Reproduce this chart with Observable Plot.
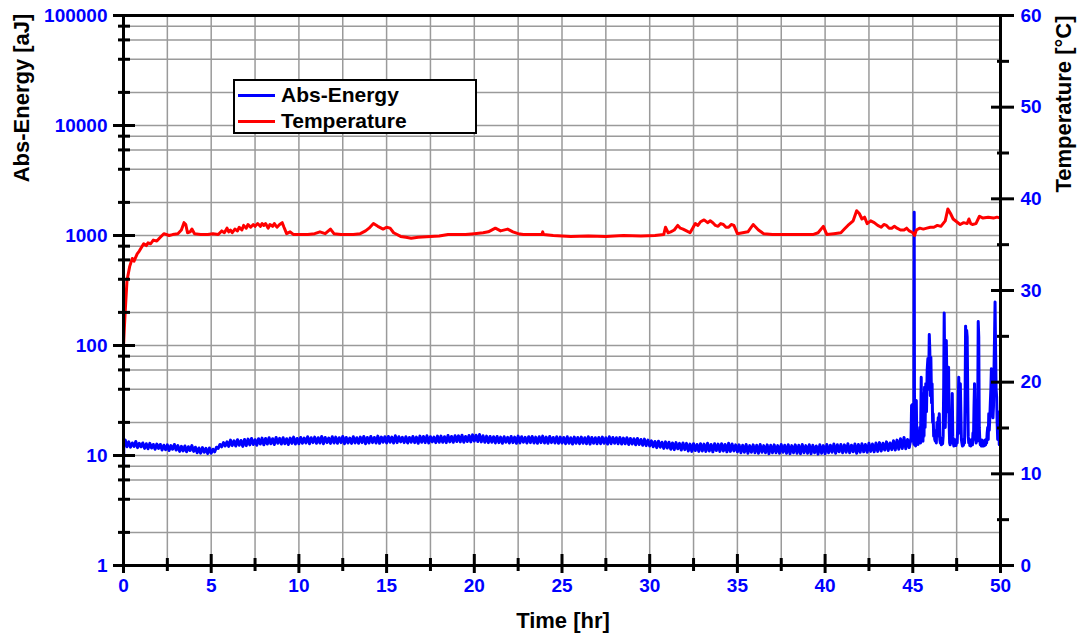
<!DOCTYPE html>
<html>
<head>
<meta charset="utf-8">
<script src="https://cdn.jsdelivr.net/npm/d3@7"></script>
<script src="https://cdn.jsdelivr.net/npm/@observablehq/plot@0.6"></script>
<style>
  html, body { margin: 0; padding: 0; background: #fff; }
  #wrap { position: relative; width: 1085px; height: 642px; font-family: "Liberation Sans", Arial, sans-serif; }
  #wrap svg { position: absolute; left: 0; top: 0; }
  .title { position: absolute; font-weight: bold; font-size: 22px; color: #000; white-space: nowrap; }
  #legend { position: absolute; left: 233px; top: 79px; width: 240px; height: 51px; border: 2px solid #000; background: #fff; }
  .lg-row { position: absolute; left: 3px; height: 26px; display: flex; align-items: center; }
  .lg-sw { width: 37px; height: 0; border-top: 3px solid; margin-right: 6px; }
  .lg-tx { font-weight: bold; font-size: 21px; color: #000; }
</style>
</head>
<body>
<div id="wrap"></div>
<script>
// ---------------- DATA ----------------
// Abs-Energy [aJ] — start of record [hr, aJ]
const energyHead = [[0, 6.9], [0.02, 13.5]];
// Abs-Energy [aJ] — readings every 0.1 hr from 0.1 hr to 44.9 hr (one row per hour)
const energyBaseStart = 0.1;
const energyBaseStep = 0.1;
const energyBaseValue = [
  13.8, 12.0, 13.3, 11.9, 13.0, 12.1, 13.4, 11.8, 12.9, 12.0,
  13.0, 11.6, 12.8, 11.5, 12.9, 11.7, 12.6, 11.4, 12.7, 11.6,
  12.6, 11.2, 12.4, 11.3, 12.5, 11.1, 12.3, 11.4, 12.6, 11.2,
  12.3, 10.9, 12.1, 11.0, 12.2, 10.8, 12.0, 11.1, 12.3, 10.9,
  11.9, 10.6, 11.7, 10.5, 11.8, 10.7, 11.6, 10.4, 11.7, 10.5,
  11.4, 10.8, 11.9, 11.6, 12.6, 12.0, 13.1, 12.2, 13.3, 12.1,
  13.8, 12.3, 13.6, 12.2, 13.9, 12.4, 13.7, 12.1, 14.0, 12.3,
  14.1, 12.5, 14.3, 12.6, 13.9, 12.4, 14.2, 12.7, 14.4, 12.5,
  14.3, 12.7, 14.5, 12.8, 14.2, 12.6, 14.6, 12.9, 14.3, 12.7,
  14.5, 12.8, 14.2, 12.6, 14.4, 12.9, 14.7, 12.7, 14.3, 12.8,
  14.6, 12.9, 14.4, 13.0, 14.8, 12.8, 14.5, 13.1, 14.7, 12.9,
  14.5, 13.0, 14.9, 12.8, 14.6, 13.1, 14.4, 12.9, 14.8, 13.0,
  14.7, 12.9, 14.5, 13.1, 14.9, 12.8, 14.6, 13.0, 14.4, 12.9,
  14.8, 13.0, 14.5, 12.9, 14.7, 13.1, 14.9, 12.8, 14.6, 13.0,
  14.9, 13.1, 14.6, 13.0, 15.0, 12.9, 14.7, 13.2, 14.8, 13.0,
  14.9, 13.2, 14.7, 13.0, 15.1, 13.1, 14.8, 13.3, 14.6, 13.1,
  14.8, 13.0, 14.6, 13.2, 14.9, 13.1, 14.7, 12.9, 15.0, 13.2,
  14.9, 13.1, 15.1, 13.0, 14.8, 13.3, 14.7, 13.1, 15.0, 13.2,
  15.0, 13.2, 14.8, 13.1, 15.2, 13.3, 14.9, 13.2, 15.1, 13.4,
  15.1, 13.3, 15.3, 13.2, 14.9, 13.4, 15.2, 13.3, 15.4, 13.5,
  15.3, 13.4, 15.5, 13.3, 15.1, 13.2, 15.0, 13.1, 14.9, 13.2,
  14.8, 13.0, 14.9, 13.1, 14.7, 12.9, 14.8, 13.2, 14.6, 13.0,
  14.9, 13.1, 14.7, 12.9, 15.0, 13.0, 14.8, 13.2, 14.6, 13.0,
  14.8, 13.1, 14.9, 13.0, 14.7, 12.9, 14.8, 13.1, 15.0, 13.0,
  14.7, 12.9, 14.9, 13.1, 14.6, 13.0, 14.8, 12.9, 14.7, 13.0,
  14.6, 12.8, 14.8, 12.9, 14.5, 12.7, 14.7, 12.9, 14.6, 12.8,
  14.7, 12.9, 14.5, 12.8, 14.8, 12.7, 14.6, 12.9, 14.5, 12.8,
  14.6, 12.8, 14.7, 12.9, 14.5, 12.7, 14.8, 12.8, 14.6, 12.9,
  14.5, 12.8, 14.6, 12.7, 14.4, 12.8, 14.5, 12.6, 14.3, 12.7,
  14.2, 12.5, 14.3, 12.6, 14.0, 12.4, 14.1, 12.3, 13.8, 12.2,
  13.6, 12.0, 13.4, 11.8, 13.5, 11.9, 13.2, 11.6, 13.3, 11.7,
  13.2, 11.4, 13.0, 11.3, 13.1, 11.5, 12.9, 11.2, 13.0, 11.3,
  12.9, 11.0, 12.7, 10.9, 12.8, 11.1, 12.6, 10.9, 12.8, 11.0,
  12.7, 10.9, 12.9, 11.0, 12.6, 10.8, 12.8, 11.1, 12.7, 10.9,
  12.8, 11.0, 12.6, 10.8, 12.9, 10.9, 12.7, 11.0, 12.5, 10.8,
  12.5, 10.6, 12.4, 10.7, 12.6, 10.5, 12.3, 10.7, 12.5, 10.6,
  12.4, 10.5, 12.6, 10.7, 12.3, 10.6, 12.5, 10.4, 12.4, 10.6,
  12.5, 10.6, 12.3, 10.5, 12.6, 10.7, 12.4, 10.5, 12.5, 10.4,
  12.3, 10.6, 12.5, 10.5, 12.4, 10.4, 12.6, 10.6, 12.3, 10.5,
  12.5, 10.4, 12.4, 10.6, 12.2, 10.3, 12.5, 10.5, 12.3, 10.4,
  12.6, 10.6, 12.4, 10.7, 12.7, 10.5, 12.5, 10.8, 12.6, 10.6,
  12.5, 10.7, 12.8, 10.6, 12.4, 10.8, 12.7, 10.5, 12.6, 10.7,
  12.8, 10.8, 12.6, 10.7, 12.9, 10.9, 12.7, 10.8, 13.0, 10.9,
  13.1, 11.0, 12.9, 11.2, 13.3, 11.1, 13.0, 11.3, 13.6, 11.2,
  13.8, 11.4, 14.2, 11.6, 14.6, 11.5, 14.0, 11.8, 14.5
];
// Abs-Energy [aJ] — burst region after 44.9 hr [hr, aJ]
const energyBurst = [
  [44.93, 28.5], [44.97, 29.0], [45.0, 13.5], [45.03, 27], [45.06, 12.8], [45.08, 1624], [45.1, 12.5],
  [45.13, 14.5], [45.16, 12.2], [45.2, 31.6], [45.23, 13.0], [45.26, 15.5], [45.3, 12.6], [45.33, 16],
  [45.36, 13.2], [45.4, 18], [45.44, 13.0], [45.48, 51.5], [45.51, 14], [45.55, 22], [45.58, 13.5],
  [45.61, 36.6], [45.64, 15], [45.67, 41.8], [45.7, 18], [45.74, 45], [45.78, 25], [45.82, 60],
  [45.86, 76], [45.9, 40], [45.94, 126], [45.97, 90], [46.0, 35], [46.03, 78], [46.07, 30],
  [46.1, 45], [46.13, 20], [46.16, 24], [46.19, 15], [46.22, 17], [46.25, 14], [46.28, 13.5],
  [46.31, 15], [46.34, 13], [46.38, 20], [46.41, 15], [46.45, 22], [46.48, 18], [46.51, 24],
  [46.54, 14], [46.57, 13], [46.6, 14.5], [46.63, 12.5], [46.66, 14], [46.7, 12.8], [46.73, 15],
  [46.76, 40], [46.79, 197], [46.82, 60], [46.85, 18], [46.88, 30], [46.91, 111], [46.94, 50],
  [46.97, 25], [47.0, 40], [47.04, 63.5], [47.07, 20], [47.1, 13], [47.13, 12.5], [47.16, 14],
  [47.19, 13], [47.22, 20], [47.25, 36.6], [47.28, 15], [47.31, 13], [47.34, 12.2], [47.37, 14],
  [47.4, 12.5], [47.43, 13.8], [47.46, 12.3], [47.5, 14], [47.53, 13], [47.56, 18], [47.59, 30],
  [47.62, 51.5], [47.65, 16], [47.68, 20], [47.71, 45], [47.74, 25], [47.77, 14], [47.8, 13],
  [47.83, 12.2], [47.86, 13.5], [47.89, 12.4], [47.92, 14], [47.95, 13], [47.98, 30], [48.01, 150],
  [48.04, 60], [48.07, 137], [48.1, 120], [48.13, 40], [48.16, 15], [48.19, 13], [48.22, 14],
  [48.25, 12.3], [48.28, 13.5], [48.31, 12.2], [48.34, 13], [48.37, 14], [48.4, 12.5], [48.43, 16],
  [48.46, 14], [48.49, 28], [48.52, 45], [48.55, 20], [48.58, 14], [48.61, 13], [48.64, 15],
  [48.67, 13.5], [48.7, 25], [48.73, 165], [48.76, 120], [48.79, 18], [48.82, 14], [48.85, 12.5],
  [48.88, 13.5], [48.91, 12.2], [48.94, 13.8], [48.97, 12.4], [49.0, 13.5], [49.03, 12.2], [49.06, 13.6],
  [49.09, 12.3], [49.12, 13.8], [49.15, 12.5], [49.18, 14], [49.21, 13], [49.24, 16], [49.27, 18],
  [49.3, 14], [49.33, 24], [49.36, 17], [49.39, 22], [49.42, 30], [49.45, 40], [49.48, 61.4],
  [49.51, 35], [49.54, 25], [49.57, 22], [49.6, 28], [49.63, 60], [49.66, 120], [49.69, 248],
  [49.72, 90], [49.75, 40], [49.78, 33.9], [49.81, 20], [49.84, 14], [49.87, 25], [49.9, 20.8],
  [49.93, 12.5], [49.96, 14], [50, 13]
];

// Temperature [°C] readings [hr, °C]
const tempReadings = [
  [0, 23.9], [0.05, 26.0], [0.1, 27.8], [0.2, 31.1], [0.35, 32.6], [0.5, 33.5], [0.6, 33.2], [0.78, 34.0],
  [0.9, 34.3], [1.15, 35.1], [1.3, 34.9], [1.4, 35.2], [1.55, 35.1], [1.7, 35.5], [1.9, 35.4], [2.1, 35.8],
  [2.3, 36.2], [2.6, 36.0], [2.8, 36.1], [3.1, 36.2], [3.3, 36.6], [3.45, 37.4], [3.55, 37.2], [3.65, 36.3],
  [3.8, 36.4], [3.9, 36.7], [4.05, 36.2], [4.4, 36.1], [4.8, 36.1], [5.1, 36.2], [5.4, 36.1], [5.6, 36.5],
  [5.75, 36.3], [5.9, 36.8], [6.0, 36.4], [6.1, 36.6], [6.2, 36.3], [6.35, 36.7], [6.5, 36.5], [6.6, 36.9],
  [6.75, 36.6], [6.85, 37.1], [7.0, 36.8], [7.1, 37.2], [7.25, 36.9], [7.4, 37.2], [7.5, 37.0], [7.65, 37.3],
  [7.8, 37.0], [7.9, 37.3], [8.0, 37.1], [8.1, 37.3], [8.25, 36.8], [8.35, 37.2], [8.5, 37.0], [8.6, 37.3],
  [8.75, 36.9], [8.9, 37.2], [9.05, 37.4], [9.15, 36.9], [9.3, 36.2], [9.5, 36.4], [9.7, 36.1], [10.1, 36.1],
  [10.5, 36.1], [10.9, 36.2], [11.2, 36.4], [11.5, 36.2], [11.8, 36.7], [12.0, 36.2], [12.4, 36.1], [13.1, 36.1],
  [13.5, 36.2], [13.8, 36.5], [14.0, 36.8], [14.25, 37.3], [14.5, 37.0], [14.8, 36.7], [15.0, 36.9], [15.2, 36.8],
  [15.4, 36.3], [15.8, 35.9], [16.1, 35.8], [16.4, 35.7], [16.8, 35.8], [17.5, 35.9], [18.0, 35.95], [18.5, 36.1],
  [19.0, 36.1], [19.5, 36.1], [20.0, 36.2], [20.5, 36.3], [20.8, 36.4], [21.2, 36.8], [21.5, 36.5], [21.9, 36.7],
  [22.2, 36.4], [22.5, 36.2], [22.8, 36.1], [23.5, 36.1], [23.85, 36.1], [23.9, 36.4], [23.95, 36.1], [24.5, 36.0],
  [25.5, 35.9], [26.5, 35.95], [27.5, 35.9], [28.5, 36.0], [29.5, 35.95], [30.3, 36.0], [30.8, 36.1], [30.9, 36.9],
  [31.05, 36.3], [31.2, 36.4], [31.4, 36.6], [31.6, 37.1], [31.75, 36.8], [31.9, 36.7], [32.1, 36.5], [32.3, 36.3],
  [32.45, 36.8], [32.6, 37.3], [32.75, 37.1], [32.9, 37.5], [33.1, 37.7], [33.3, 37.4], [33.45, 37.6], [33.6, 37.4],
  [33.75, 37.1], [33.9, 37.0], [34.05, 37.3], [34.2, 37.2], [34.35, 36.9], [34.5, 36.9], [34.65, 37.2], [34.8, 37.1],
  [35.0, 36.2], [35.3, 36.3], [35.6, 36.4], [35.9, 37.2], [36.2, 36.6], [36.5, 36.2], [37.0, 36.1], [37.5, 36.1],
  [38.5, 36.1], [39.3, 36.1], [39.6, 36.3], [39.9, 37.0], [40.1, 36.1], [40.5, 36.2], [40.9, 36.3], [41.1, 36.7],
  [41.3, 37.1], [41.6, 37.6], [41.8, 38.7], [41.95, 38.4], [42.1, 37.8], [42.25, 38.0], [42.4, 37.3], [42.6, 37.6],
  [42.8, 37.4], [43.0, 37.1], [43.2, 36.9], [43.35, 37.2], [43.5, 37.1], [43.65, 36.8], [43.8, 36.8], [43.95, 37.0],
  [44.1, 36.8], [44.3, 36.6], [44.5, 36.6], [44.65, 36.8], [44.8, 36.5], [45.0, 36.3], [45.1, 36.0], [45.2, 36.6],
  [45.4, 36.8], [45.6, 36.7], [45.8, 36.8], [46.0, 36.9], [46.2, 36.9], [46.4, 37.1], [46.6, 37.0], [46.85, 37.6],
  [47.0, 38.9], [47.15, 38.4], [47.3, 37.8], [47.5, 37.5], [47.7, 37.2], [47.9, 37.4], [48.1, 37.3], [48.2, 37.8],
  [48.3, 37.3], [48.4, 37.2], [48.6, 37.3], [48.8, 38.1], [49.0, 37.9], [49.3, 38.0], [49.6, 37.9], [49.8, 38.0],
  [50.0, 37.9]
];

// Axis ticks
const timeMajorTicks = [0, 5, 10, 15, 20, 25, 30, 35, 40, 45, 50];
const timeMinorTicks = [2.5, 7.5, 12.5, 17.5, 22.5, 27.5, 32.5, 37.5, 42.5, 47.5];
const energyMajorTicks = [1, 10, 100, 1000, 10000, 100000];
const energyMinorTicks = [2, 4, 6, 8, 20, 40, 60, 80, 200, 400, 600, 800,
  2000, 4000, 6000, 8000, 20000, 40000, 60000, 80000];
const tempMajorTicks = [0, 10, 20, 30, 40, 50, 60];
const tempMinorTicks = [5, 15, 25, 35, 45, 55];
const tempMax = 60; // right axis spans 0..60 °C over the 5 log decades

// ---------------- BUILD ----------------
const energy = [];
energyHead.forEach(([t, v]) => energy.push({t, v}));
energyBaseValue.forEach((v, i) => energy.push({t: +(energyBaseStart + i * energyBaseStep).toFixed(2), v}));
energyBurst.forEach(([t, v]) => energy.push({t, v}));
const temperature = tempReadings.map(([t, T]) => ({t, T}));

const decades = 5;
const tempToY = T => Math.pow(10, T / tempMax * decades);

const font = "'Liberation Sans', Arial, sans-serif";
const tickCommon = {stroke: "black", strokeWidth: 3, label: null, tickFormat: () => ""};
const labelStyle = {fill: "blue", fontWeight: "bold", fontSize: 19, stroke: null};

const chart = Plot.plot({
  width: 1085,
  height: 642,
  marginLeft: 123,
  marginRight: 85,
  marginTop: 15,
  marginBottom: 77,
  style: {fontFamily: font, background: "white", overflow: "visible"},
  x: {domain: [0, 50]},
  y: {type: "log", domain: [1, 100000]},
  marks: [
    Plot.gridX(timeMinorTicks.concat(timeMajorTicks), {stroke: "#9a9a9a", strokeOpacity: 1, strokeWidth: 1.5}),
    Plot.gridY(energyMinorTicks.concat(energyMajorTicks), {stroke: "#9a9a9a", strokeOpacity: 1, strokeWidth: 1.5}),
    Plot.line(energy, {x: "t", y: "v", stroke: "#0000ff", strokeWidth: 3}),
    Plot.line(temperature, {x: "t", y: d => tempToY(d.T), stroke: "#ff0000", strokeWidth: 3}),
    Plot.frame({stroke: "black", strokeWidth: 3}),
    // left axis (Abs-Energy, log)
    Plot.axisY({...tickCommon, ticks: energyMajorTicks, anchor: "left", tickSize: 10}),
    Plot.axisY({...tickCommon, ticks: energyMajorTicks, anchor: "left", tickSize: -12}),
    Plot.axisY({...tickCommon, ticks: energyMinorTicks, anchor: "left", tickSize: 5}),
    Plot.axisY({...tickCommon, ticks: energyMinorTicks, anchor: "left", tickSize: -7}),
    Plot.text(energyMajorTicks, {y: d => d, text: d => String(d), frameAnchor: "left", dx: -16,
      textAnchor: "end", ...labelStyle}),
    // right axis (Temperature, linear, mapped onto the log frame)
    Plot.axisY({...tickCommon, ticks: tempMajorTicks.map(tempToY), anchor: "right", tickSize: 13}),
    Plot.axisY({...tickCommon, ticks: tempMajorTicks.map(tempToY), anchor: "right", tickSize: -10}),
    Plot.axisY({...tickCommon, ticks: tempMinorTicks.map(tempToY), anchor: "right", tickSize: 8}),
    Plot.axisY({...tickCommon, ticks: tempMinorTicks.map(tempToY), anchor: "right", tickSize: -4}),
    Plot.text(tempMajorTicks, {y: tempToY, text: d => String(d), frameAnchor: "right", dx: 20,
      textAnchor: "start", ...labelStyle}),
    // bottom axis (Time)
    Plot.axisX({...tickCommon, ticks: timeMajorTicks, anchor: "bottom", tickSize: 8}),
    Plot.axisX({...tickCommon, ticks: timeMajorTicks, anchor: "bottom", tickSize: -11}),
    Plot.axisX({...tickCommon, ticks: timeMinorTicks, anchor: "bottom", tickSize: 6}),
    Plot.axisX({...tickCommon, ticks: timeMinorTicks, anchor: "bottom", tickSize: -7}),
    Plot.text(timeMajorTicks, {x: d => d, text: d => String(d), frameAnchor: "bottom", dy: 26,
      ...labelStyle})
  ]
});

const wrap = document.getElementById("wrap");
wrap.appendChild(chart);

// Axis titles
function addTitle(text, css) {
  const d = document.createElement("div");
  d.className = "title";
  d.textContent = text;
  Object.assign(d.style, css);
  wrap.appendChild(d);
}
addTitle("Abs-Energy [aJ]", {left: "22px", top: "98px", transform: "translate(-50%, -50%) rotate(-90deg)"});
addTitle("Temperature [°C]", {left: "1064px", top: "104px", transform: "translate(-50%, -50%) rotate(-90deg)"});
addTitle("Time [hr]", {left: "563px", top: "621px", transform: "translate(-50%, -50%)"});

// Legend
const legend = document.createElement("div");
legend.id = "legend";
[["Abs-Energy", "#0000ff", 1], ["Temperature", "#ff0000", 27]].forEach(([name, color, top]) => {
  const row = document.createElement("div");
  row.className = "lg-row";
  row.style.top = top + "px";
  const sw = document.createElement("div");
  sw.className = "lg-sw";
  sw.style.borderTopColor = color;
  const tx = document.createElement("span");
  tx.className = "lg-tx";
  tx.textContent = name;
  row.appendChild(sw);
  row.appendChild(tx);
  legend.appendChild(row);
});
wrap.appendChild(legend);
</script>
</body>
</html>
